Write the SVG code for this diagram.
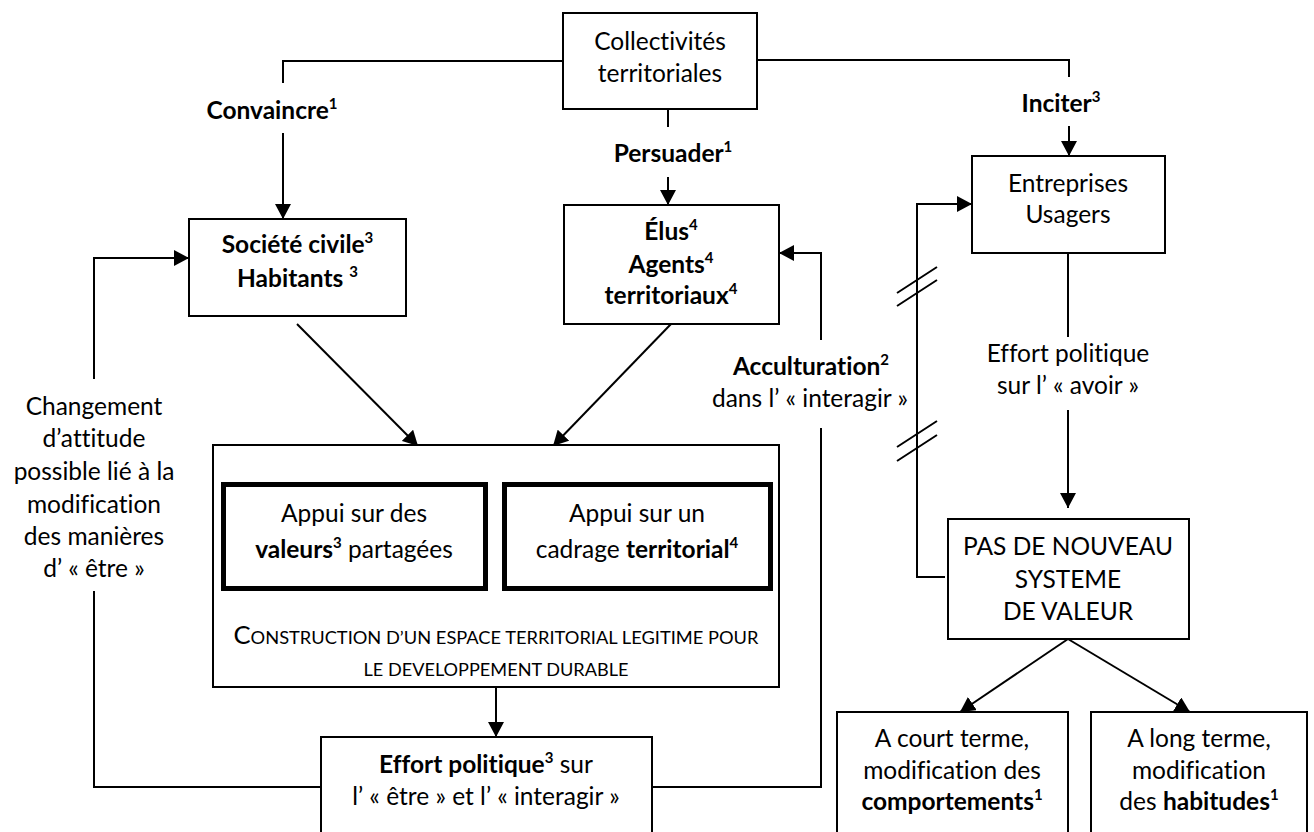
<svg xmlns="http://www.w3.org/2000/svg" width="1314" height="832" viewBox="0 0 1314 832">
<defs>
<style>
text{font-family:Lato,"Open Sans","Liberation Sans",sans-serif;font-size:24.5px;fill:#000;text-anchor:middle;font-variant-ligatures:none;font-feature-settings:"liga" 0}
.b{font-weight:bold}
.sup{font-size:15px;font-weight:bold}
.box{fill:#fff;stroke:#000;stroke-width:2}
.thick{fill:#fff;stroke:#000;stroke-width:5}
.ln{fill:none;stroke:#000;stroke-width:2}
.sc{font-size:17.5px}
.big{font-size:24.5px}
</style>
<marker id="ah" markerUnits="userSpaceOnUse" markerWidth="16" markerHeight="16" viewBox="0 0 16 16" refX="15" refY="8" orient="auto">
<path d="M0,0 L15,8 L0,16 Z" fill="#000"/>
</marker>
</defs>
<rect width="1314" height="832" fill="#fff"/>

<g id="connectors">
<path class="ln" d="M563,61 H283 V83"/>
<path class="ln" d="M283,133 V219" marker-end="url(#ah)"/>
<path class="ln" d="M757,60 H1069 V77"/>
<path class="ln" d="M1069,126 V156" marker-end="url(#ah)"/>
<path class="ln" d="M668,109 V127"/>
<path class="ln" d="M668,177 V205" marker-end="url(#ah)"/>
<path class="ln" d="M297,324 L418,446" marker-end="url(#ah)"/>
<path class="ln" d="M671,324 L553,446" marker-end="url(#ah)"/>
<path class="ln" d="M496,687 V737" marker-end="url(#ah)"/>
<path class="ln" d="M321,787 H94 V591"/>
<path class="ln" d="M94,379 V258 H189" marker-end="url(#ah)"/>
<path class="ln" d="M652,787 H821 V428"/>
<path class="ln" d="M821,340 V253 H779" marker-end="url(#ah)"/>
<path class="ln" d="M945,577 H917 V204 H972" marker-end="url(#ah)"/>
<path class="ln" d="M897,293 L937,267 M897,306 L937,280"/>
<path class="ln" d="M897,447 L937,421 M897,461 L937,435"/>
<path class="ln" d="M1068,253 V337"/>
<path class="ln" d="M1068,410 V508" marker-end="url(#ah)"/>
<path class="ln" d="M1068,639 L960,712" marker-end="url(#ah)"/>
<path class="ln" d="M1068,639 L1190,712" marker-end="url(#ah)"/>
</g>

<g id="labels">
<text x="272" y="119"><tspan class="b">Convaincre</tspan><tspan class="sup" dy="-10">1</tspan></text>
<text x="673" y="162"><tspan class="b">Persuader</tspan><tspan class="sup" dy="-10">1</tspan></text>
<text x="1061" y="112"><tspan class="b">Inciter</tspan><tspan class="sup" dy="-10">3</tspan></text>
<text x="811" y="375"><tspan class="b">Acculturation</tspan><tspan class="sup" dy="-10">2</tspan></text>
<text x="810" y="407">dans l’ « interagir »</text>
<text x="94" y="415">Changement</text>
<text x="94" y="447">d’attitude</text>
<text x="94" y="480">possible lié à la</text>
<text x="94" y="513">modification</text>
<text x="94" y="545">des manières</text>
<text x="94" y="577">d’ « être »</text>
<text x="1068" y="362">Effort politique</text>
<text x="1068" y="394">sur l’ « avoir »</text>
</g>

<g id="collectivites">
<rect class="box" x="563" y="13" width="194" height="96"/>
<text x="660" y="50">Collectivités</text>
<text x="660" y="82">territoriales</text>
</g>

<g id="societe">
<rect class="box" x="189" y="219" width="217" height="97"/>
<text x="297.5" y="253"><tspan class="b">Société civile</tspan><tspan class="sup" dy="-10">3</tspan></text>
<text x="297.5" y="287"><tspan class="b">Habitants </tspan><tspan class="sup" dy="-10">3</tspan></text>
</g>

<g id="elus">
<rect class="box" x="564" y="205" width="215" height="119"/>
<text x="671" y="240"><tspan class="b">Élus</tspan><tspan class="sup" dy="-10">4</tspan></text>
<text x="671" y="273"><tspan class="b">Agents</tspan><tspan class="sup" dy="-10">4</tspan></text>
<text x="671" y="304"><tspan class="b">territoriaux</tspan><tspan class="sup" dy="-10">4</tspan></text>
</g>

<g id="entreprises">
<rect class="box" x="972" y="156" width="193" height="97"/>
<text x="1068" y="192">Entreprises</text>
<text x="1068" y="223">Usagers</text>
</g>

<g id="construction">
<rect class="box" x="213" y="445" width="566" height="242"/>
<text x="496" y="644" textLength="525" lengthAdjust="spacingAndGlyphs"><tspan class="big">C</tspan><tspan class="sc">ONSTRUCTION D’UN ESPACE TERRITORIAL LEGITIME POUR</tspan></text>
<text x="496" y="676" class="sc" textLength="265" lengthAdjust="spacingAndGlyphs">LE DEVELOPPEMENT DURABLE</text>
</g>

<g id="valeurs">
<rect class="thick" x="223.5" y="484.5" width="262" height="104"/>
<text x="354" y="522">Appui sur des</text>
<text x="354" y="558"><tspan class="b">valeurs</tspan><tspan class="sup" dy="-10">3</tspan><tspan dy="10"> partagées</tspan></text>
</g>

<g id="territorial">
<rect class="thick" x="504.5" y="484.5" width="266" height="104"/>
<text x="637" y="522">Appui sur un</text>
<text x="637" y="558">cadrage <tspan class="b">territorial</tspan><tspan class="sup" dy="-10">4</tspan></text>
</g>

<g id="effort">
<rect class="box" x="321" y="737" width="331" height="110"/>
<text x="486" y="773"><tspan class="b">Effort politique</tspan><tspan class="sup" dy="-10">3</tspan><tspan dy="10"> sur</tspan></text>
<text x="486" y="805">l’ « être » et l’ « interagir »</text>
</g>

<g id="pas">
<rect class="box" x="948" y="519" width="241" height="120"/>
<text x="1068" y="555">PAS DE NOUVEAU</text>
<text x="1068" y="588">SYSTEME</text>
<text x="1068" y="620">DE VALEUR</text>
</g>

<g id="court">
<rect class="box" x="837" y="712" width="231" height="130"/>
<text x="952" y="747">A court terme,</text>
<text x="952" y="779">modification des</text>
<text x="952" y="810"><tspan class="b">comportements</tspan><tspan class="sup" dy="-10">1</tspan></text>
</g>

<g id="long">
<rect class="box" x="1091" y="712" width="216" height="130"/>
<text x="1199" y="747">A long terme,</text>
<text x="1199" y="779">modification</text>
<text x="1199" y="810">des <tspan class="b">habitudes</tspan><tspan class="sup" dy="-10">1</tspan></text>
</g>
</svg>
